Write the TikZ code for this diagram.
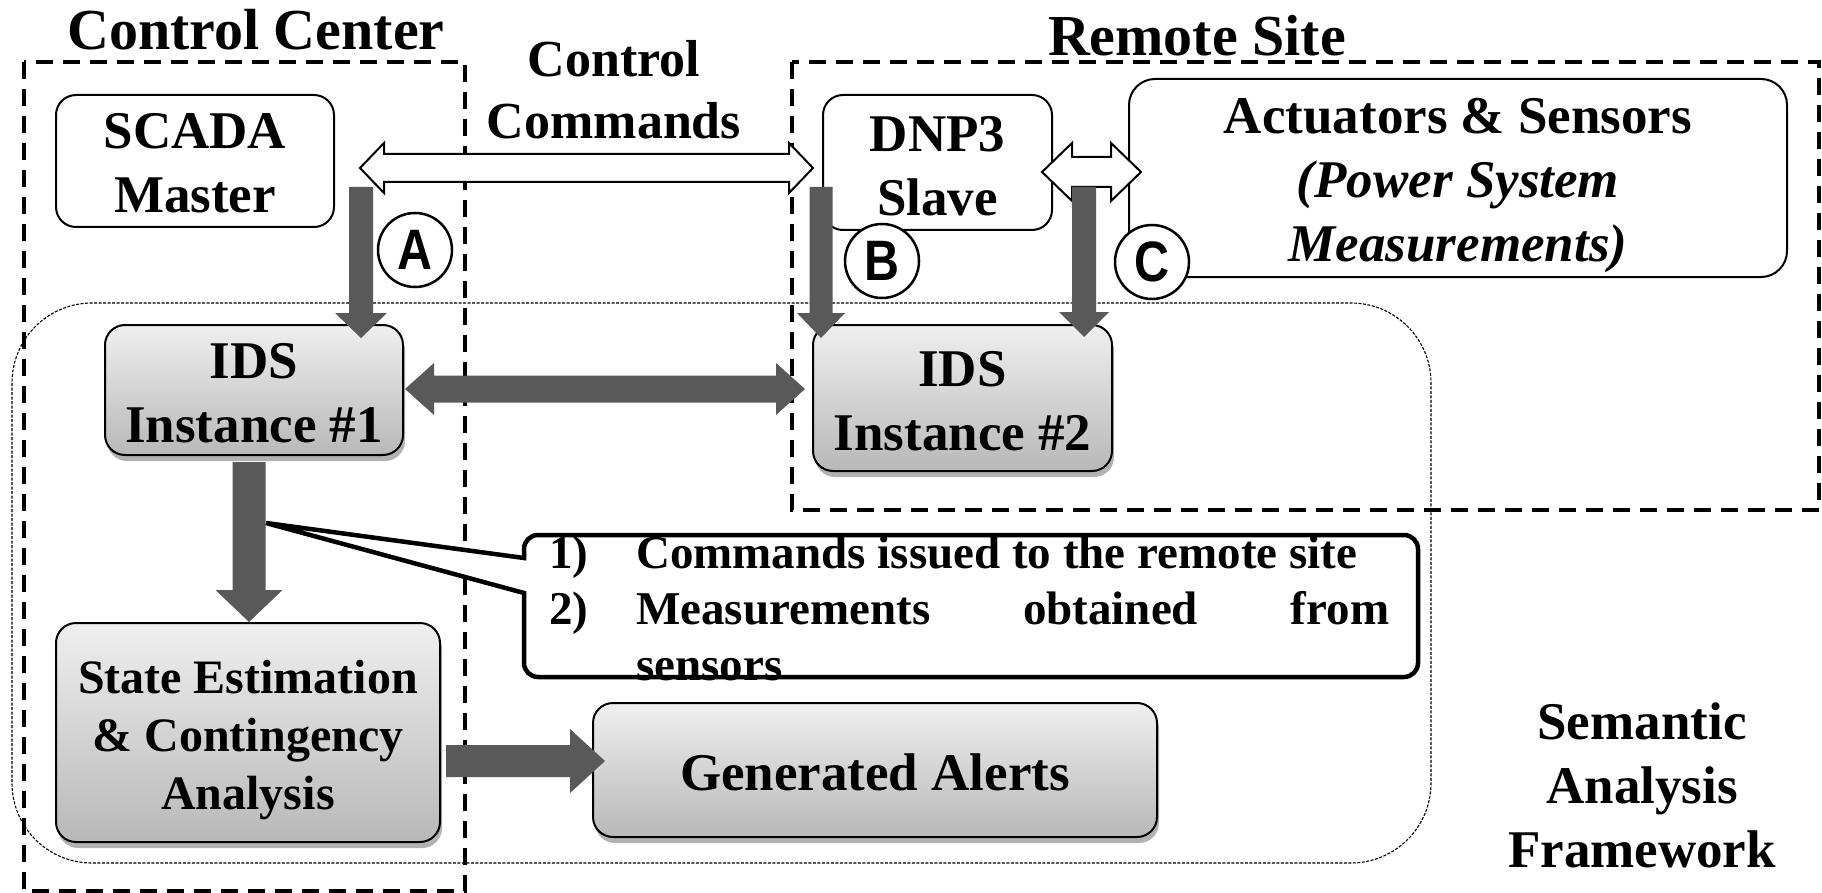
\documentclass[tikz,border=0pt]{standalone}
\usepackage{fontspec}
\setmainfont{Liberation Serif}
\newfontfamily\circfont[FakeStretch=0.85]{Liberation Sans}
\usetikzlibrary{calc,shadows}

\definecolor{arrowgray}{HTML}{595959}
\definecolor{boxtop}{HTML}{EFEFEF}
\definecolor{boxbot}{HTML}{B8B8B8}

% filled gray block arrows between named coordinates
% #1 start, #2 tip, #3 shaft half width, #4 head half width, #5 head length
\newcommand\garrowdown[5]{%
  \fill[arrowgray] ($(#1)+(-#3,0)$) -- ($(#2)+(-#3,-#5)$) -- ($(#2)+(-#4,-#5)$) -- (#2)
    -- ($(#2)+(#4,-#5)$) -- ($(#2)+(#3,-#5)$) -- ($(#1)+(#3,0)$) -- cycle;}
\newcommand\garrowright[5]{%
  \fill[arrowgray] ($(#1)+(0,-#3)$) -- ($(#2)+(-#5,-#3)$) -- ($(#2)+(-#5,-#4)$) -- (#2)
    -- ($(#2)+(-#5,#4)$) -- ($(#2)+(-#5,#3)$) -- ($(#1)+(0,#3)$) -- cycle;}
\newcommand\garrowboth[5]{%
  \fill[arrowgray] (#1) -- ($(#1)+(#5,-#4)$) -- ($(#1)+(#5,-#3)$) -- ($(#2)+(-#5,-#3)$)
    -- ($(#2)+(-#5,-#4)$) -- (#2) -- ($(#2)+(-#5,#4)$) -- ($(#2)+(-#5,#3)$)
    -- ($(#1)+(#5,#3)$) -- ($(#1)+(#5,#4)$) -- cycle;}
% hollow double arrow: #1 left tip, #2 right tip, #3 shaft half, #4 head half, #5 head length
\newcommand\hollowboth[5]{%
  \draw[line width=2pt, fill=white, line join=miter] (#1) -- ($(#1)+(#5,-#4)$) -- ($(#1)+(#5,-#3)$) -- ($(#2)+(-#5,-#3)$)
    -- ($(#2)+(-#5,-#4)$) -- (#2) -- ($(#2)+(-#5,#4)$) -- ($(#2)+(-#5,#3)$)
    -- ($(#1)+(#5,#3)$) -- ($(#1)+(#5,#4)$) -- cycle;}

\begin{document}
\begin{tikzpicture}[x=1pt,y=-1pt,
  region/.style={draw, line width=4.2pt, dash pattern=on 17pt off 10pt},
  framebox/.style={draw, line width=1.1pt, dash pattern=on 3pt off 1.5pt, rounded corners=80pt},
  mainfont/.style={font=\fontsize{53}{64}\selectfont\bfseries},
  whitebox/.style={draw, line width=2pt, fill=white, rounded corners=20pt, inner sep=0pt},
  graybox/.style={draw, line width=2pt, rounded corners=20pt, top color=boxtop, bottom color=boxbot,
     inner sep=0pt,
     drop shadow={shadow xshift=2pt, shadow yshift=-6pt, opacity=0.3, fill=black}},
  titletext/.style={inner sep=0pt, font=\fontsize{58}{64}\selectfont\bfseries},
  plaintext/.style={inner sep=0pt, align=center, mainfont},
  circ/.style={circle, draw, line width=2.5pt, fill=white, minimum size=74pt, inner sep=0pt,
     font=\circfont\fontsize{57}{57}\selectfont\bfseries},
  calltext/.style={inner sep=0pt, anchor=base west, font=\fontsize{47}{56}\selectfont\bfseries}
]
\useasboundingbox (0,0) rectangle (1822,893);

% regions
\draw[region] (24,62) rectangle (465,891);
\draw[region] (792,62) rectangle (1819,510);
\draw[framebox] (12,303) rectangle (1431,863);

% titles
\node[titletext] (cctitle) at (256,30) {Control Center};
\node[titletext] (rstitle) at (1197,36) {Remote Site};
\node[plaintext, font=\fontsize{52}{62}\selectfont\bfseries] (cmdlabel) at (614,90) {Control\\Commands};
\node[plaintext] (saf) at (1642,785) {Semantic\\Analysis\\Framework};

% boxes
\node[whitebox, minimum width=278pt, minimum height=132pt] (scada) at (195,161) {};
\node[plaintext] (scadaText) at ($(scada.center)+(0,2)$) {SCADA\\Master};
\node[whitebox, minimum width=229pt, minimum height=135pt] (dnp3) at (937.5,162.5) {};
\node[plaintext] (dnp3Text) at ($(dnp3.center)+(0,4)$) {DNP3\\Slave};
\node[whitebox, rounded corners=26pt, minimum width=658pt, minimum height=198pt] (act) at (1458,178) {};
\node[plaintext] (actText) at ($(act.center)+(0,8)$)
  {Actuators \& Sensors\\\textit{(Power System}\\\textit{Measurements)}};
\node[graybox, minimum width=298pt, minimum height=130pt] (ids1) at (254,390) {};
\node[plaintext] (ids1Text) at ($(ids1.center)+(0,3)$) {IDS\\Instance \#1};
\node[graybox, minimum width=299pt, minimum height=146pt] (ids2) at (962.5,398) {};
\node[plaintext] (ids2Text) at ($(ids2.center)+(0,3)$) {IDS\\Instance \#2};
\node[graybox, minimum width=384pt, minimum height=219pt] (se) at (248,732.5) {};
\node[plaintext, font=\fontsize{48}{58}\selectfont\bfseries] (seText) at ($(se.center)+(0,8)$)
  {State Estimation\\\& Contingency\\Analysis};
\node[graybox, minimum width=564pt, minimum height=134pt] (alerts) at (875,770) {};
\node[plaintext] (alertsText) at ($(alerts.center)+(0,2)$) {Generated Alerts};

% hollow connectors
\coordinate (ccL) at (360,168);
\coordinate (ccR) at (813,168);
\hollowboth{ccL}{ccR}{14}{25}{24}
\coordinate (daL) at (1042,172);
\coordinate (daR) at (1141,172);
\hollowboth{daL}{daR}{15}{29}{30}

% gray connectors
\coordinate (aS) at (361,187);  \coordinate (aT) at (361,338);
\garrowdown{aS}{aT}{12}{26}{25}
\coordinate (bS) at (821,187);  \coordinate (bT) at (821,338);
\garrowdown{bS}{bT}{11.5}{24}{25}
\coordinate (cS) at (1084,187); \coordinate (cT) at (1084,337);
\garrowdown{cS}{cT}{12}{25}{25}
\coordinate (iL) at (405,389);  \coordinate (iR) at (805,389);
\garrowboth{iL}{iR}{13.5}{26}{29}
\coordinate (sS) at (249,462);  \coordinate (sT) at (249,622);
\garrowdown{sS}{sT}{16.5}{33.5}{32}
\coordinate (gS) at (446,761);  \coordinate (gT) at (605,761);
\garrowright{gS}{gT}{16}{32}{35}

% circled labels
\node[circ] (cA) at (415,250) {A};
\node[circ] (cB) at (882,261) {B};
\node[circ] (cC) at (1152,262) {C};

% callout
\coordinate (ptip) at (266,523);
\draw[line width=4.5pt, fill=white, line join=miter] (ptip) -- (524,558) [rounded corners=14pt] -- (524,535) -- (1418,535)
  -- (1418,677) -- (524,677) [sharp corners] -- (524,593) -- cycle;
\node[calltext] (n1) at (549,568) {1)};
\node[calltext] (t1) at (636,568) {Commands issued to the remote site};
\node[calltext] (n2) at (549,624) {2)};
\node[calltext] (t2) at (636,624) {\makebox[753pt][s]{Measurements obtained from}};
\node[calltext] (t3) at (636,680) {sensors};
\end{tikzpicture}
\end{document}
